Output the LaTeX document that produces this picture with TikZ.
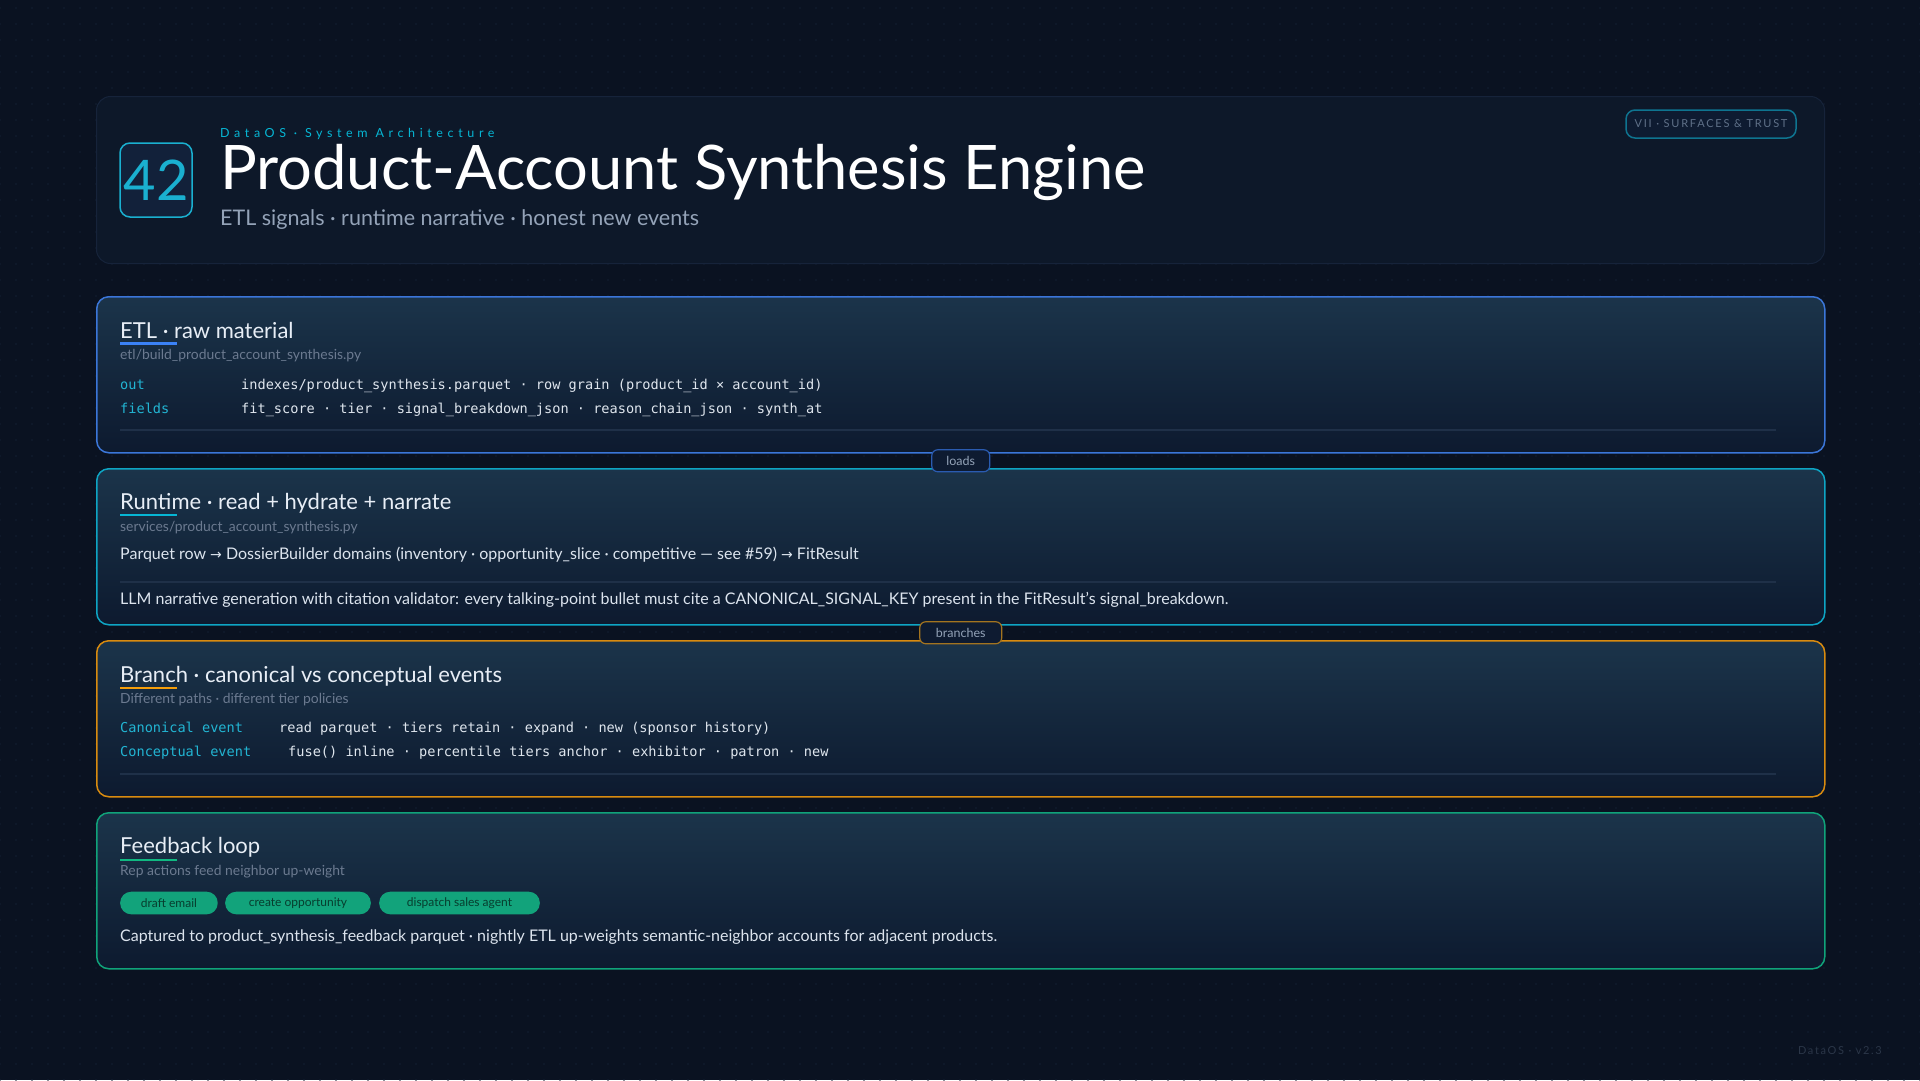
\documentclass[tikz,border=0pt]{standalone}
\usepackage{fontspec}
\setmainfont{Lato}
\setmonofont{DejaVu Sans Mono}
\newfontfamily\kickerfont[LetterSpace=37]{Lato}
\newfontfamily\chipfont[LetterSpace=16]{Lato}
\newfontfamily\footfont[LetterSpace=15]{Lato}
\newfontfamily\symfont{DejaVu Sans}
\usetikzlibrary{patterns}
\newcommand\setfs[1]{\fontsize{#1}{#1}\selectfont}
\definecolor{bgC}{HTML}{0A1221}
\definecolor{dotC}{HTML}{142033}
\definecolor{hdrFill}{HTML}{0D1829}
\definecolor{hdrLine}{HTML}{16233A}
\definecolor{panelTop}{HTML}{1B344A}
\definecolor{panelBot}{HTML}{0D1A2F}
\definecolor{etlC}{HTML}{3B76D9}
\definecolor{rtC}{HTML}{0EA5C4}
\definecolor{brC}{HTML}{D98B0F}
\definecolor{fbC}{HTML}{10A37A}
\definecolor{etlU}{HTML}{3B82F6}
\definecolor{rtU}{HTML}{06B6D4}
\definecolor{brU}{HTML}{F59E0B}
\definecolor{fbU}{HTML}{10B981}
\definecolor{titleC}{HTML}{E8EEF6}
\definecolor{mutedC}{HTML}{6B7A90}
\definecolor{bodyC}{HTML}{DCE4EE}
\definecolor{cyanC}{HTML}{22B5D3}
\definecolor{valC}{HTML}{DFE6EE}
\definecolor{subC}{HTML}{94A3B8}
\definecolor{divC}{HTML}{1F3048}
\definecolor{lblFill}{HTML}{0E1B31}
\definecolor{lblText}{HTML}{94A3B8}
\definecolor{loadsB}{HTML}{2A5BB0}
\definecolor{branchB}{HTML}{A3741F}
\definecolor{pillC}{HTML}{12A37B}
\definecolor{pillText}{HTML}{073D2E}
\definecolor{badgeFill}{HTML}{12213A}
\definecolor{badgeC}{HTML}{1AB0D0}
\definecolor{chipB}{HTML}{0E7490}
\definecolor{chipText}{HTML}{5F7088}
\definecolor{footC}{HTML}{2B3648}
\pgfdeclarepatternformonly{griddots}{\pgfqpoint{-1pt}{-1pt}}{\pgfqpoint{1pt}{1pt}}{\pgfqpoint{16pt}{16pt}}{\pgfpathcircle{\pgfpointorigin}{0.9pt}\pgfusepath{fill}}
\begin{document}
\begin{tikzpicture}[x=1pt,y=-1pt,
  panel/.style={rounded corners=12pt, line width=1.5pt, minimum width=1728pt, minimum height=156pt, anchor=north west, inner sep=0pt, top color=panelTop, bottom color=panelBot},
  ttl/.style={anchor=base west, inner sep=0pt, text=titleC, font=\setfs{22}},
  pathtxt/.style={anchor=base west, inner sep=0pt, text=mutedC, font=\setfs{13.9}},
  body/.style={anchor=base west, inner sep=0pt, text=bodyC, font=\setfs{16}},
  monolab/.style={anchor=base west, inner sep=0pt, text=cyanC, font=\ttfamily\setfs{13.6}},
  monoval/.style={anchor=base west, inner sep=0pt, text=valC, font=\ttfamily\setfs{13.6}},
  uline/.style={line width=2.5pt},
  divider/.style={draw=divC, line width=1.5pt},
  lbl/.style={rounded corners=6pt, fill=lblFill, line width=1.2pt, minimum height=22pt, inner sep=0pt, text=lblText, font=\setfs{12.5}},
  pill/.style={rounded corners=11pt, fill=pillC, minimum height=22.6pt, inner sep=0pt, anchor=west, text=pillText, font=\setfs{12}},
  conn/.style={line width=1.2pt}
]
\useasboundingbox (0,0) rectangle (1920,1080);
\fill[bgC] (0,0) rectangle (1920,1080);
\fill[pattern=griddots, pattern color=dotC] (0,0) rectangle (1920,1080);

% header
\node[anchor=north west, minimum width=1728pt, minimum height=167pt, rounded corners=14pt, fill=hdrFill, draw=hdrLine, line width=1pt] (hdr) at (96,96) {};
\node[minimum width=72pt, minimum height=74pt, rounded corners=10pt, fill=badgeFill, draw=badgeC, line width=1.5pt, text=badgeC, font=\setfs{56}, inner sep=0pt] (badge) at (156,180) {42};
\node[anchor=base west, inner sep=0pt, text=rtU, font=\kickerfont\setfs{12.5}] (kicker) at (220,137) {DataOS · System Architecture};
\node[anchor=base west, inner sep=0pt, text=white, font=\setfs{61.4}] (title) at (220,189) {Product-Account Synthesis Engine};
\node[anchor=base west, inner sep=0pt, text=subC, font=\setfs{21.5}] (subtitle) at (220,225) {ETL signals · runtime narrative · honest new events};
\node[minimum width=170pt, minimum height=28pt, rounded corners=9pt, fill=lblFill, draw=chipB, line width=1.5pt, text=chipText, font=\chipfont\setfs{11}, inner sep=0pt] (chip) at (1711,124) {VII · SURFACES \& TRUST};

% panels
\node[panel, draw=etlC] (etl) at (96,296) {};
\node[panel, draw=rtC] (rt) at (96,468) {};
\node[panel, draw=brC] (br) at (96,640) {};
\node[panel, draw=fbC] (fb) at (96,812) {};

% ETL
\node[ttl] (etlT) at (120,338) {ETL · raw material};
\draw[uline, draw=etlU] (120,343.5) -- (177,343.5);
\node[pathtxt] (etlP) at (120,359.5) {etl/build\_product\_account\_synthesis.py};
\node[monolab] (outL) at (120,389) {out};
\node[monoval] (outV) at (241,389) {indexes/product\_synthesis.parquet · row grain (product\_id × account\_id)};
\node[monolab] (fldL) at (120,413) {fields};
\node[monoval] (fldV) at (241,413) {fit\_score · tier · signal\_breakdown\_json · reason\_chain\_json · synth\_at};
\draw[divider] (120,430) -- (1776,430);

% Runtime
\node[ttl] (rtT) at (120,509.5) {Runtime · read + hydrate + narrate};
\draw[uline, draw=rtU] (120,515) -- (177,515);
\node[pathtxt] (rtP) at (120,531.5) {services/product\_account\_synthesis.py};
\node[body] (rtL1) at (120,559.5) {Parquet row {\symfont\setfs{14}→} DossierBuilder domains (inventory · opportunity\_slice · competitive — see \#59) {\symfont\setfs{14}→} FitResult};
\draw[divider] (120,582) -- (1776,582);
\node[body] (rtL2) at (120,604) {LLM narrative generation with citation validator: every talking-point bullet must cite a CANONICAL\_SIGNAL\_KEY present in the FitResult's signal\_breakdown.};

% Branch
\node[ttl] (brT) at (120,682) {Branch · canonical vs conceptual events};
\draw[uline, draw=brU] (120,688) -- (177,688);
\node[pathtxt] (brP) at (120,703) {Different paths · different tier policies};
\node[monolab] (canL) at (120,732) {Canonical event};
\node[monoval] (canV) at (279,732) {read parquet · tiers retain · expand · new (sponsor history)};
\node[monolab] (conL) at (120,756) {Conceptual event};
\node[monoval] (conV) at (288,756) {fuse() inline · percentile tiers anchor · exhibitor · patron · new};
\draw[divider] (120,774) -- (1776,774);

% Feedback
\node[ttl] (fbT) at (120,853) {Feedback loop};
\draw[uline, draw=fbU] (120,860) -- (177,860);
\node[pathtxt] (fbP) at (120,875) {Rep actions feed neighbor up-weight};
\node[pill, minimum width=97.5pt] (p1) at (120,903) {draft email};
\node[pill, minimum width=145.6pt] (p2) at (225,903) {create opportunity};
\node[pill, minimum width=160.6pt] (p3) at (379,903) {dispatch sales agent};
\node[body] (fbL) at (120,941) {Captured to product\_synthesis\_feedback parquet · nightly ETL up-weights semantic-neighbor accounts for adjacent products.};

% connectors
\draw[conn, draw=loadsB] (etl.south) -- node[lbl, draw=loadsB, minimum width=58pt] (loads) {loads} (rt.north);
\draw[conn, draw=branchB] (rt.south) -- node[lbl, draw=branchB, minimum width=82pt] (branches) {branches} (br.north);

% footer
\node[anchor=base east, inner sep=0pt, text=footC, font=\footfont\setfs{11}] (foot) at (1882,1054) {DataOS · v2.3};
\end{tikzpicture}
\end{document}
